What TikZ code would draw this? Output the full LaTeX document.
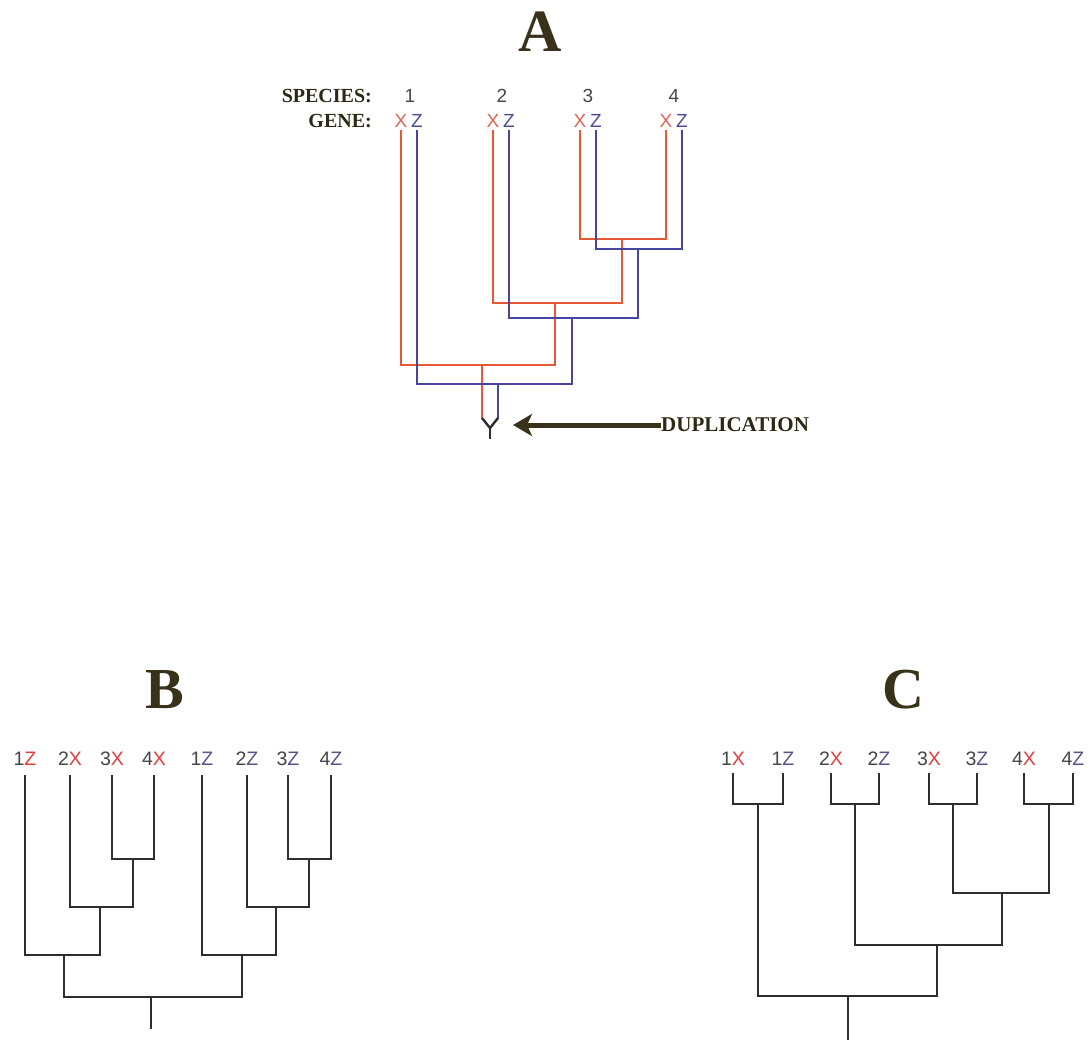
\documentclass[tikz,border=0pt]{standalone}
\usepackage{fontspec}
\setmainfont{Liberation Serif}
\setsansfont{Liberation Sans}
\usetikzlibrary{arrows.meta}
\definecolor{redline}{RGB}{228,88,52}
\definecolor{blueline}{RGB}{70,70,160}
\definecolor{redtxtA}{RGB}{225,100,85}
\definecolor{bluetxtA}{RGB}{75,75,145}
\definecolor{redtxt}{RGB}{225,60,60}
\definecolor{bluetxt}{RGB}{85,85,135}
\definecolor{digit}{RGB}{70,70,70}
\definecolor{titlecol}{RGB}{55,50,25}
\definecolor{treeblack}{RGB}{45,45,45}
\tikzset{
  x=1pt, y=-1pt,
  redbranch/.style={draw=redline, line width=2.7pt, line cap=rect},
  bluebranch/.style={draw=blueline, line width=2.7pt, line cap=rect},
  blkbranch/.style={draw=treeblack, line width=2.8pt, line cap=rect},
  bigtitle/.style={font=\bfseries\fontsize{60}{60}\selectfont, text=titlecol, inner sep=0pt},
  headlab/.style={font=\bfseries\fontsize{20}{20}\selectfont, text=titlecol!80!black, inner sep=0pt, anchor=base east},
  genelab/.style={font=\sffamily\fontsize{19}{19}\selectfont, inner sep=0pt, anchor=base},
  leaflab/.style={font=\sffamily\fontsize{19.5}{19.5}\selectfont, inner sep=0pt, anchor=base, text=digit},
}
\begin{document}
\begin{tikzpicture}
\useasboundingbox (0,0) rectangle (1091,1039);

% ---------------- A ----------------
\node[bigtitle] (titleA) at (540,32) {A};
\node[headlab] (species) at (372,102) {SPECIES:};
\node[headlab] (gene) at (372,127) {GENE:};
\node[genelab, text=digit] (s1) at (410,102) {1};
\node[genelab, text=digit] (s2) at (502,102) {2};
\node[genelab, text=digit] (s3) at (588,102) {3};
\node[genelab, text=digit] (s4) at (674,102) {4};
\foreach \i/\xr/\xb in {1/401/417, 2/493/509, 3/580/596, 4/666/682}{
  \node[genelab, text=redtxtA] (gx\i) at (\xr,127) {X};
  \node[genelab, text=bluetxtA] (gz\i) at (\xb,127) {Z};
  \coordinate (r\i) at (\xr,131);
  \coordinate (b\i) at (\xb,131);
}
\coordinate (nR34) at (622,239);
\coordinate (nR234) at (555,303);
\coordinate (nR1234) at (482,365);
\coordinate (dupR) at (482,418);
\coordinate (nB34) at (638,249);
\coordinate (nB234) at (572,318);
\coordinate (nB1234) at (498,384);
\coordinate (dupB) at (498,418);
\coordinate (dup) at (490,428);
\coordinate (rootA) at (490,439);

\draw[redbranch] (r3) |- (nR34) -| (r4);
\draw[redbranch] (r2) |- (nR234) -| (nR34);
\draw[redbranch] (r1) |- (nR1234) -| (nR234);
\draw[redbranch] (nR1234) -- (dupR);
\draw[bluebranch] (b3) |- (nB34) -| (b4);
\draw[bluebranch] (b2) |- (nB234) -| (nB34);
\draw[bluebranch] (b1) |- (nB1234) -| (nB234);
\draw[bluebranch] (nB1234) -- (dupB);
\draw[draw=treeblack, line width=2.4pt] (dupR) -- (dup) -- (dupB);
\draw[draw=treeblack, line width=2.4pt] (dup) -- (rootA);

\node[font=\bfseries\fontsize{21}{21}\selectfont, text=titlecol!80!black, inner sep=0pt, anchor=west] (dupl) at (661,425) {DUPLICATION};
\coordinate (arrowtip) at (513,425);
\draw[draw=titlecol, line width=5pt, -{Stealth[length=19pt, width=22pt, inset=5pt]}] (dupl.west) -- (arrowtip);

% ---------------- B ----------------
\node[bigtitle, font=\bfseries\fontsize{58}{58}\selectfont] (titleB) at (165,690) {B};
\foreach \i/\xx/\n/\l/\c in {1/25/1/Z/redtxt, 2/70/2/X/redtxt, 3/112/3/X/redtxt, 4/154/4/X/redtxt,
                              5/202/1/Z/bluetxt, 6/247/2/Z/bluetxt, 7/288/3/Z/bluetxt, 8/331/4/Z/bluetxt}{
  \node[leaflab] (bl\i) at (\xx,765) {\n\textcolor{\c}{\l}};
  \coordinate (bt\i) at (\xx,776);
}
\coordinate (bL34) at (133,859);
\coordinate (bL234) at (100,907);
\coordinate (bL1234) at (64,955);
\coordinate (bR34) at (309,859);
\coordinate (bR234) at (276,907);
\coordinate (bR1234) at (242,955);
\coordinate (bRoot) at (151,997);
\coordinate (bBase) at (151,1028);
\draw[blkbranch] (bt3) |- (bL34) -| (bt4);
\draw[blkbranch] (bt2) |- (bL234) -| (bL34);
\draw[blkbranch] (bt1) |- (bL1234) -| (bL234);
\draw[blkbranch] (bt7) |- (bR34) -| (bt8);
\draw[blkbranch] (bt6) |- (bR234) -| (bR34);
\draw[blkbranch] (bt5) |- (bR1234) -| (bR234);
\draw[blkbranch] (bL1234) |- (bRoot) -| (bR1234);
\draw[blkbranch] (bRoot) -- (bBase);

% ---------------- C ----------------
\node[bigtitle, font=\bfseries\fontsize{58}{58}\selectfont] (titleC) at (903,690) {C};
\foreach \i/\xx/\n/\l/\c in {1/733/1/X/redtxt, 2/783/1/Z/bluetxt, 3/831/2/X/redtxt, 4/879/2/Z/bluetxt,
                              5/929/3/X/redtxt, 6/977/3/Z/bluetxt, 7/1024/4/X/redtxt, 8/1073/4/Z/bluetxt}{
  \node[leaflab] (cl\i) at (\xx,765) {\n\textcolor{\c}{\l}};
  \coordinate (ct\i) at (\xx,774);
}
\coordinate (cP1) at (758,804);
\coordinate (cP2) at (855,804);
\coordinate (cP3) at (953,804);
\coordinate (cP4) at (1049,804);
\coordinate (c34) at (1002,893);
\coordinate (c234) at (937,945);
\coordinate (c1234) at (848,996);
\coordinate (cBase) at (848,1039);
\draw[blkbranch] (ct1) |- (cP1) -| (ct2);
\draw[blkbranch] (ct3) |- (cP2) -| (ct4);
\draw[blkbranch] (ct5) |- (cP3) -| (ct6);
\draw[blkbranch] (ct7) |- (cP4) -| (ct8);
\draw[blkbranch] (cP3) |- (c34) -| (cP4);
\draw[blkbranch] (cP2) |- (c234) -| (c34);
\draw[blkbranch] (cP1) |- (c1234) -| (c234);
\draw[blkbranch] (c1234) -- (cBase);
\end{tikzpicture}
\end{document}
